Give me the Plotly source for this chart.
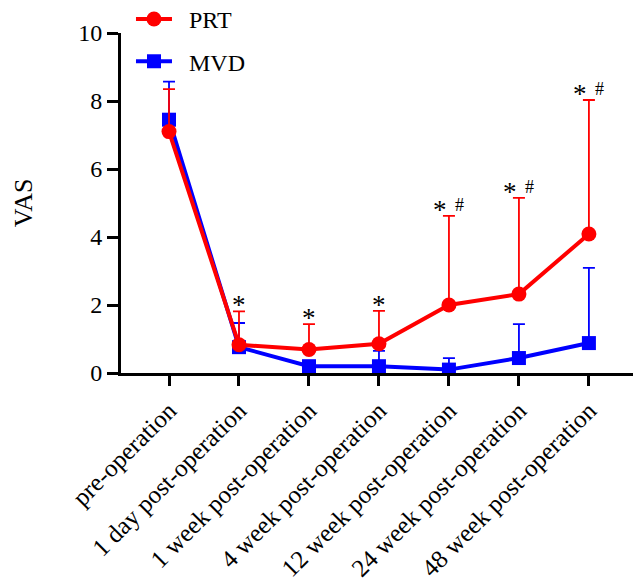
import plotly.graph_objects as go

categories = ["pre-operation", "1 day post-operation", "1 week post-operation",
              "4 week post-operation", "12 week post-operation",
              "24 week post-operation", "48 week post-operation"]
prt_mean = [7.1, 0.83, 0.69, 0.86, 2.0, 2.32, 4.09]
prt_sd = [1.25, 0.98, 0.75, 0.97, 2.62, 2.83, 3.94]
mvd_mean = [7.45, 0.76, 0.2, 0.2, 0.1, 0.44, 0.88]
mvd_sd = [1.12, 0.71, 0.0, 0.45, 0.34, 1.0, 2.21]
star_labels = ["", "*", "*", "*", "*", "*", "*"]
hash_labels = ["", "", "", "", "#", "#", "#"]

FONT = "Liberation Serif"
NB = "\u00a0"
x_idx = list(range(len(categories)))

fig = go.Figure()
fig.add_trace(go.Scatter(
    x=x_idx, y=mvd_mean, name=NB * 2 + "MVD", mode="lines+markers",
    legendgroup="b", legendrank=2,
    line=dict(color="#0000ff", width=4),
    marker=dict(symbol="square", size=14, color="#0000ff"),
    error_y=dict(type="data", array=mvd_sd, arrayminus=[0]*7, symmetric=False,
                 color="#0000ff", thickness=1.8, width=6),
))
fig.add_trace(go.Scatter(
    x=x_idx, y=prt_mean, name=NB * 2 + "PRT", mode="lines+markers",
    legendgroup="a", legendrank=1,
    line=dict(color="#ff0000", width=4),
    marker=dict(symbol="circle", size=15, color="#ff0000"),
    error_y=dict(type="data", array=prt_sd, arrayminus=[0]*7, symmetric=False,
                 color="#ff0000", thickness=1.8, width=6),
))

for i in x_idx:
    top = prt_mean[i] + prt_sd[i]
    if star_labels[i]:
        has_hash = bool(hash_labels[i])
        fig.add_annotation(x=i, y=top, xref="x", yref="y", text=star_labels[i],
                           showarrow=False, yanchor="bottom",
                           xshift=-9 if has_hash else 0, yshift=-11,
                           font=dict(family=FONT, size=27, color="black"))
    if hash_labels[i]:
        fig.add_annotation(x=i, y=top, xref="x", yref="y", text=hash_labels[i],
                           showarrow=False, yanchor="bottom",
                           xshift=11, yshift=-1,
                           font=dict(family=FONT, size=18, color="black"))

fig.add_annotation(x=-0.191, y=0.5, xref="paper", yref="paper", text="VAS",
                   textangle=-90, showarrow=False, xanchor="center", yanchor="middle",
                   font=dict(family=FONT, size=26, color="black"))

fig.update_layout(
    width=633, height=582,
    margin=dict(l=121, r=0, t=33, b=209, autoexpand=False),
    plot_bgcolor="white", paper_bgcolor="white",
    font=dict(family=FONT, size=20, color="black"),
    showlegend=True,
    legend=dict(x=0.0195, y=1.106, xanchor="left", yanchor="top",
                traceorder="grouped", font=dict(family=FONT, size=24),
                bgcolor="rgba(0,0,0,0)", itemwidth=36, tracegroupgap=8),
)
fig.update_xaxes(
    range=[-0.686, 6.63], tickmode="array", tickvals=x_idx, ticktext=categories,
    tickangle=-45, showline=True, linecolor="black", linewidth=3,
    ticks="outside", ticklen=10, tickwidth=3, tickcolor="black", automargin=False,
    showgrid=False, zeroline=False, tickfont=dict(family=FONT, size=25),
)
fig.update_yaxes(
    range=[0, 10], tickvals=[0, 2, 4, 6, 8, 10],
    showline=True, linecolor="black", linewidth=3, automargin=False,
    ticks="outside", ticklen=11, tickwidth=3, tickcolor="black",
    showgrid=False, zeroline=False, tickfont=dict(family=FONT, size=24),
)

fig.write_html("out.html", config={"displayModeBar": False},
               post_script="document.body.style.margin='0';")
